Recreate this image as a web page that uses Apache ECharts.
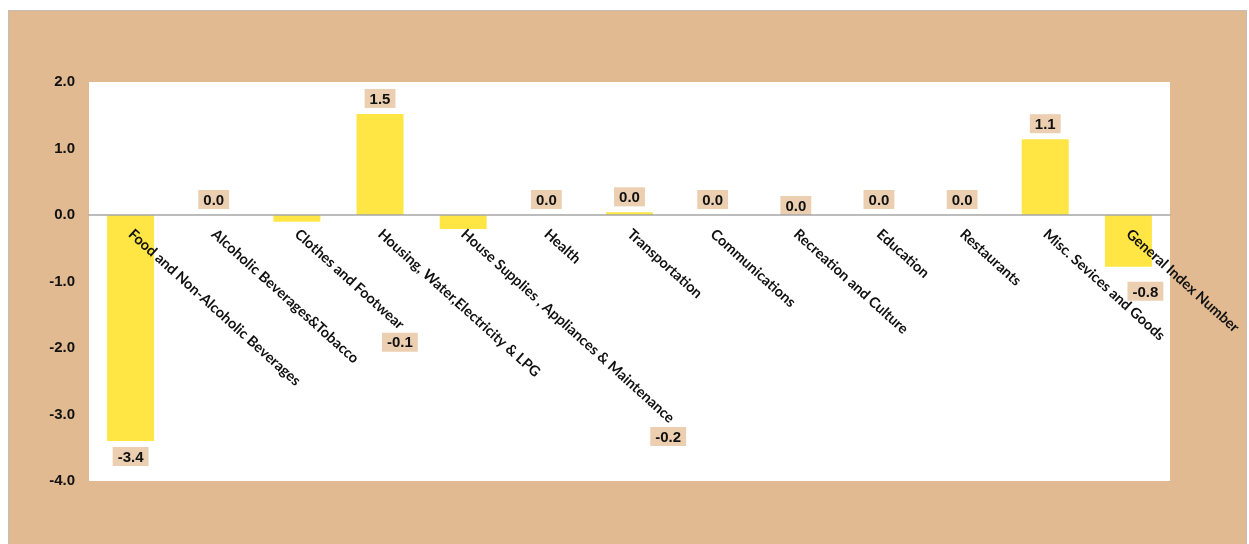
<!DOCTYPE html>
<html>
<head>
<meta charset="utf-8">
<script src="https://cdn.jsdelivr.net/npm/echarts@6/dist/echarts.min.js"></script>
<style>
  html, body { margin: 0; padding: 0; background: #ffffff; width: 1249px; height: 544px; overflow: hidden; }
  #chart { position: absolute; left: 8px; top: 10px; width: 1239px; height: 540px; box-sizing: border-box; border: 1px solid #c4beb6; }
</style>
</head>
<body>
<div id="chart"></div>
<script>
const categories = [
  'Food and Non-Alcoholic Beverages',
  'Alcoholic Beverages&Tobacco',
  'Clothes and Footwear',
  'Housing, Water,Electricity & LPG',
  'House Supplies , Appliances & Maintenance',
  'Health',
  'Transportation',
  'Communications',
  'Recreation and Culture',
  'Education',
  'Restaurants',
  'Misc. Sevices and Goods',
  'General Index Number'
];
const values = [-3.4, 0.0, -0.1, 1.52, -0.21, 0.0, 0.04, 0.0, 0.0, 0.0, 0.0, 1.14, -0.78];
const yTicks = { min: -4, max: 2, interval: 1 };

// label placement tweaks (style only), keyed by category index
const labelOffsets = { 2: [103, 105], 4: [205, 192], 8: [0, 6], 12: [17, 9] };

const gridH = 399;
// put the category axis (line + labels) at the zero value
const zeroOffset = -gridH * (0 - yTicks.min) / (yTicks.max - yTicks.min);

const chart = echarts.init(document.getElementById('chart'));
const data = values.map((v, i) => ({
  value: v,
  label: {
    position: v < 0 ? 'bottom' : 'top',
    offset: labelOffsets[i] || [0, 0]
  }
}));

chart.setOption({
  backgroundColor: '#E2BA91',
  animation: false,
  grid: {
    left: 80, top: 71, width: 1081, height: gridH,
    containLabel: false, outerBoundsMode: 'none',
    show: true, backgroundColor: '#ffffff', borderWidth: 0
  },
  xAxis: {
    type: 'category',
    data: categories,
    z: 3,
    position: 'bottom',
    offset: zeroOffset,
    axisLine: { onZero: false, lineStyle: { color: '#a6a6a6', width: 1.5 } },
    axisTick: { show: false },
    axisLabel: {
      interval: 0,
      rotate: -42,
      margin: 17,
      color: '#111111',
      fontFamily: 'Lato',
      fontWeight: 'bold',
      fontSize: 14.5
    }
  },
  yAxis: {
    type: 'value',
    min: yTicks.min, max: yTicks.max, interval: yTicks.interval,
    axisLine: { show: false },
    axisTick: { show: false },
    splitLine: { show: false },
    axisLabel: {
      margin: 14,
      color: '#111111',
      fontFamily: 'Liberation Sans',
      fontWeight: 'bold',
      fontSize: 15,
      formatter: v => v.toFixed(1)
    }
  },
  series: [{
    type: 'bar',
    data: data,
    barWidth: 47,
    itemStyle: { color: '#FFE645' },
    label: {
      show: true,
      distance: 6,
      formatter: p => p.value.toFixed(1),
      color: '#111111',
      fontFamily: 'Liberation Sans',
      fontWeight: 'bold',
      fontSize: 15,
      backgroundColor: '#EBCFB0',
      padding: [3, 5, 1, 5]
    }
  }]
});
</script>
</body>
</html>
